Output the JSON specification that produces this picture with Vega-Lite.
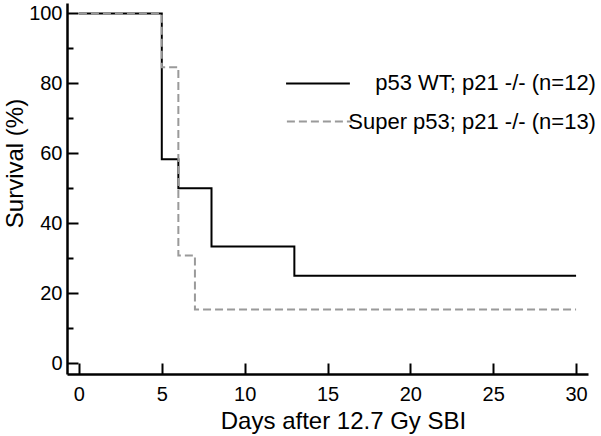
{
  "$schema": "https://vega.github.io/schema/vega-lite/v6.json",
  "width": 521,
  "height": 371,
  "autosize": {"type": "none"},
  "padding": {"left": 67, "top": 3, "right": 13, "bottom": 62},
  "background": "white",
  "config": {
    "view": {"stroke": null},
    "font": "Liberation Sans",
    "axis": {
      "grid": false,
      "domainColor": "#000000",
      "domainWidth": 2.5,
      "tickColor": "#000000",
      "tickWidth": 2,
      "labelColor": "#000000",
      "titleColor": "#000000",
      "labelFont": "Liberation Sans",
      "titleFont": "Liberation Sans",
      "labelFontSize": 20,
      "titleFontSize": 24,
      "titleFontWeight": "normal",
      "labelFlush": false,
      "labelOverlap": false
    }
  },
  "datasets": {
    "curves": [
      {"group": "WT", "day": 0, "survival": 100},
      {"group": "WT", "day": 5, "survival": 58.33},
      {"group": "WT", "day": 6, "survival": 50},
      {"group": "WT", "day": 8, "survival": 33.33},
      {"group": "WT", "day": 13, "survival": 25},
      {"group": "WT", "day": 30, "survival": 25},
      {"group": "Super", "day": 0, "survival": 100},
      {"group": "Super", "day": 5, "survival": 84.62},
      {"group": "Super", "day": 6, "survival": 30.77},
      {"group": "Super", "day": 7, "survival": 15.38},
      {"group": "Super", "day": 30, "survival": 15.38}
    ],
    "legend": [
      {"group": "WT", "label": "p53 WT; p21 -/- (n=12)", "x1": 12.5, "x2": 16.35, "y": 80, "tx": 31.2},
      {"group": "Super", "label": "Super p53; p21 -/- (n=13)", "x1": 12.55, "x2": 16.45, "y": 69.1, "tx": 31.2}
    ],
    "minor": [
      {"v": 10}, {"v": 30}, {"v": 50}, {"v": 70}, {"v": 90}
    ]
  },
  "resolve": {"axis": {"y": "independent"}},
  "layer": [
    {
      "data": {"name": "curves"},
      "transform": [{"filter": "datum.group === 'WT'"}],
      "mark": {"type": "line", "interpolate": "step-after", "color": "#000000", "strokeWidth": 2},
      "encoding": {
        "x": {
          "field": "day", "type": "quantitative",
          "scale": {"domain": [-0.72, 30.72], "nice": false, "zero": false},
          "axis": {
            "orient": "bottom",
            "values": [0, 5, 10, 15, 20, 25, 30],
            "tickSize": -11,
            "labelPadding": 21,
            "title": "Days after 12.7 Gy SBI",
            "titleX": 276,
            "titleY": 54,
            "titleBaseline": "alphabetic"
          }
        },
        "y": {
          "field": "survival", "type": "quantitative",
          "scale": {"domain": [-3.1, 103], "nice": false, "zero": false},
          "axis": {
            "orient": "left",
            "values": [0, 20, 40, 60, 80, 100],
            "tickSize": -11,
            "labelPadding": 16,
            "title": "Survival  (%)",
            "titleX": -52,
            "titleY": 160,
            "titleBaseline": "middle"
          }
        }
      }
    },
    {
      "data": {"name": "minor"},
      "mark": {"type": "point", "opacity": 0},
      "encoding": {
        "x": {"datum": 0, "type": "quantitative"},
        "y": {
          "field": "v", "type": "quantitative",
          "axis": {
            "orient": "left",
            "values": [10, 30, 50, 70, 90],
            "tickSize": -6,
            "labels": false,
            "domain": false,
            "title": null
          }
        }
      }
    },
    {
      "data": {"name": "curves"},
      "transform": [{"filter": "datum.group === 'Super'"}],
      "mark": {"type": "line", "interpolate": "step-after", "color": "#9a9a9a", "strokeWidth": 2, "strokeDash": [8, 4]},
      "encoding": {
        "x": {"field": "day", "type": "quantitative"},
        "y": {"field": "survival", "type": "quantitative", "axis": null}
      }
    },
    {
      "data": {"name": "legend"},
      "transform": [{"filter": "datum.group === 'WT'"}],
      "mark": {"type": "rule", "color": "#000000", "strokeWidth": 2},
      "encoding": {
        "x": {"field": "x1", "type": "quantitative"},
        "x2": {"field": "x2"},
        "y": {"field": "y", "type": "quantitative", "axis": null}
      }
    },
    {
      "data": {"name": "legend"},
      "transform": [{"filter": "datum.group === 'Super'"}],
      "mark": {"type": "rule", "color": "#9a9a9a", "strokeWidth": 2, "strokeDash": [8, 4]},
      "encoding": {
        "x": {"field": "x1", "type": "quantitative"},
        "x2": {"field": "x2"},
        "y": {"field": "y", "type": "quantitative", "axis": null}
      }
    },
    {
      "data": {"name": "legend"},
      "mark": {"type": "text", "align": "right", "baseline": "middle", "font": "Liberation Sans", "fontSize": 22, "color": "#000000"},
      "encoding": {
        "x": {"field": "tx", "type": "quantitative"},
        "y": {"field": "y", "type": "quantitative", "axis": null},
        "text": {"field": "label"}
      }
    }
  ]
}
